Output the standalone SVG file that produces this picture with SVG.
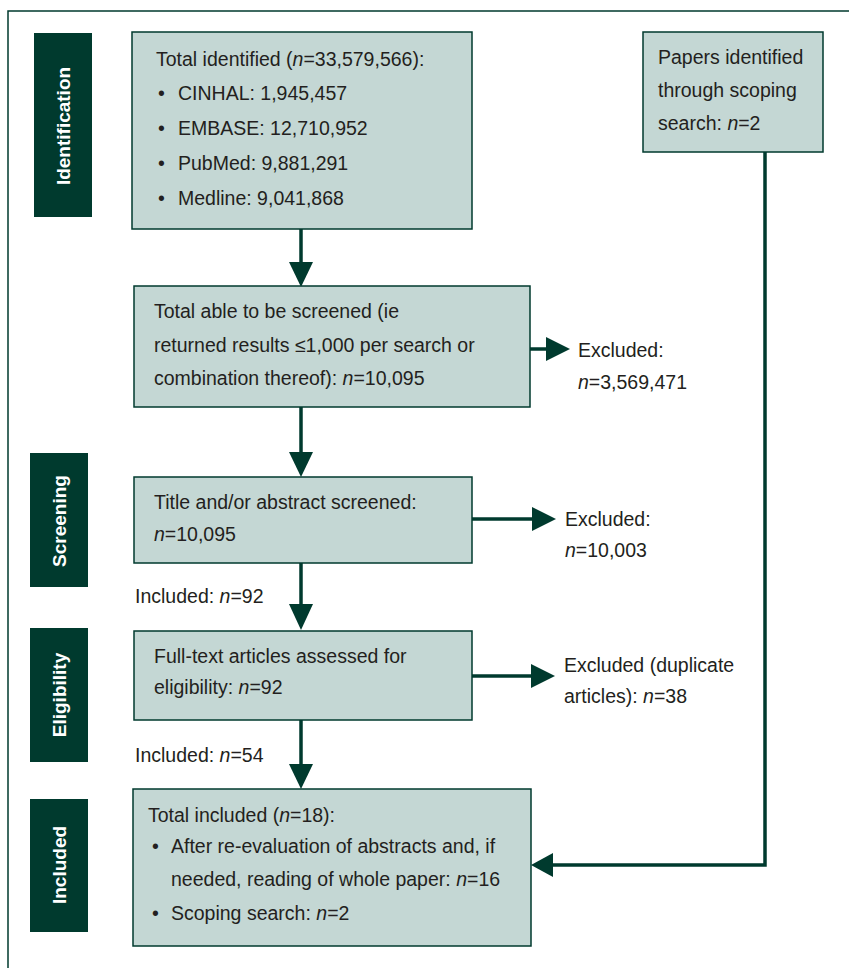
<svg xmlns="http://www.w3.org/2000/svg" width="849" height="968" viewBox="0 0 849 968">
<style>
.frame{fill:none;stroke:#003a2e;stroke-width:1.5}
.box{fill:#c4d7d4;stroke:#003a2e;stroke-width:1.5}
.lbl{fill:#003a2e}
.lt{fill:#ffffff;font-family:"Liberation Sans",Arial,sans-serif;font-weight:bold;font-size:19px;text-anchor:middle}
.t{fill:#231f20;font-family:"Liberation Sans",Arial,sans-serif;font-size:19.5px}
.i{font-style:italic}
.ln{fill:none;stroke:#003a2e;stroke-width:3.5}
.ah{fill:#003a2e}
</style>
<rect width="849" height="968" fill="#ffffff"/>
<path class="frame" d="M8,968 V11 H849"/>

<g id="stage-identification">
<rect class="lbl" x="34" y="33" width="58" height="184"/>
<text class="lt" transform="translate(70,126) rotate(-90)">Identification</text>
</g>
<g id="stage-screening">
<rect class="lbl" x="30" y="453" width="58" height="134"/>
<text class="lt" transform="translate(66,521) rotate(-90)">Screening</text>
</g>
<g id="stage-eligibility">
<rect class="lbl" x="30" y="628" width="58" height="134"/>
<text class="lt" transform="translate(66,695) rotate(-90)">Eligibility</text>
</g>
<g id="stage-included">
<rect class="lbl" x="30" y="799" width="58" height="133"/>
<text class="lt" transform="translate(66,865) rotate(-90)">Included</text>
</g>

<g id="connectors">
<line class="ln" x1="301" y1="229" x2="301" y2="264"/>
<polygon class="ah" points="289,262 313,262 301,287"/>
<line class="ln" x1="301" y1="407" x2="301" y2="454"/>
<polygon class="ah" points="289,452 313,452 301,477"/>
<line class="ln" x1="301" y1="563" x2="301" y2="606"/>
<polygon class="ah" points="289,604 313,604 301,630"/>
<line class="ln" x1="301" y1="720" x2="301" y2="766"/>
<polygon class="ah" points="289,764 313,764 301,789"/>
<line class="ln" x1="530" y1="349" x2="548" y2="349"/>
<polygon class="ah" points="546,337 546,361 570,349"/>
<line class="ln" x1="472" y1="519" x2="534" y2="519"/>
<polygon class="ah" points="532,507 532,531 556,519"/>
<line class="ln" x1="472" y1="676" x2="533" y2="676"/>
<polygon class="ah" points="531,664 531,688 555,676"/>
<polyline class="ln" points="765,152 765,865 551,865"/>
<polygon class="ah" points="553,853 553,877 531,865"/>
</g>

<g id="n-total-identified">
<rect class="box" x="132" y="32" width="340" height="197"/>
<text class="t" x="156" y="66">Total identified (<tspan class="i">n</tspan>=33,579,566):</text>
<text class="t" x="158" y="100">•</text><text class="t" x="178" y="100">CINHAL: 1,945,457</text>
<text class="t" x="158" y="135">•</text><text class="t" x="178" y="135">EMBASE: 12,710,952</text>
<text class="t" x="158" y="170">•</text><text class="t" x="178" y="170">PubMed: 9,881,291</text>
<text class="t" x="158" y="205">•</text><text class="t" x="178" y="205">Medline: 9,041,868</text>
</g>

<g id="n-scoping">
<rect class="box" x="643" y="32" width="180" height="120"/>
<text class="t" x="658" y="64">Papers identified</text>
<text class="t" x="658" y="97">through scoping</text>
<text class="t" x="658" y="130">search: <tspan class="i">n</tspan>=2</text>
</g>

<g id="n-screenable">
<rect class="box" x="134" y="286" width="396" height="121"/>
<text class="t" x="154" y="318">Total able to be screened (ie</text>
<text class="t" x="154" y="352">returned results ≤1,000 per search or</text>
<text class="t" x="154" y="385">combination thereof): <tspan class="i">n</tspan>=10,095</text>
</g>

<g id="n-excluded-1">
<text class="t" x="578" y="357">Excluded:</text>
<text class="t" x="578" y="389"><tspan class="i">n</tspan>=3,569,471</text>
</g>

<g id="n-title-abstract">
<rect class="box" x="134" y="477" width="338" height="86"/>
<text class="t" x="154" y="509">Title and/or abstract screened:</text>
<text class="t" x="154" y="541"><tspan class="i">n</tspan>=10,095</text>
</g>

<g id="n-excluded-2">
<text class="t" x="565" y="526">Excluded:</text>
<text class="t" x="565" y="557"><tspan class="i">n</tspan>=10,003</text>
</g>

<g id="n-included-92">
<text class="t" x="135" y="603">Included: <tspan class="i">n</tspan>=92</text>
</g>

<g id="n-fulltext">
<rect class="box" x="134" y="631" width="338" height="89"/>
<text class="t" x="154" y="663">Full-text articles assessed for</text>
<text class="t" x="154" y="694">eligibility: <tspan class="i">n</tspan>=92</text>
</g>

<g id="n-excluded-3">
<text class="t" x="564" y="672">Excluded (duplicate</text>
<text class="t" x="564" y="703">articles): <tspan class="i">n</tspan>=38</text>
</g>

<g id="n-included-54">
<text class="t" x="135" y="762">Included: <tspan class="i">n</tspan>=54</text>
</g>

<g id="n-total-included">
<rect class="box" x="133" y="789" width="398" height="157"/>
<text class="t" x="148" y="822">Total included (<tspan class="i">n</tspan>=18):</text>
<text class="t" x="152" y="853">•</text><text class="t" x="171" y="853">After re-evaluation of abstracts and, if</text>
<text class="t" x="171" y="886">needed, reading of whole paper: <tspan class="i">n</tspan>=16</text>
<text class="t" x="152" y="920">•</text><text class="t" x="171" y="920">Scoping search: <tspan class="i">n</tspan>=2</text>
</g>
</svg>
